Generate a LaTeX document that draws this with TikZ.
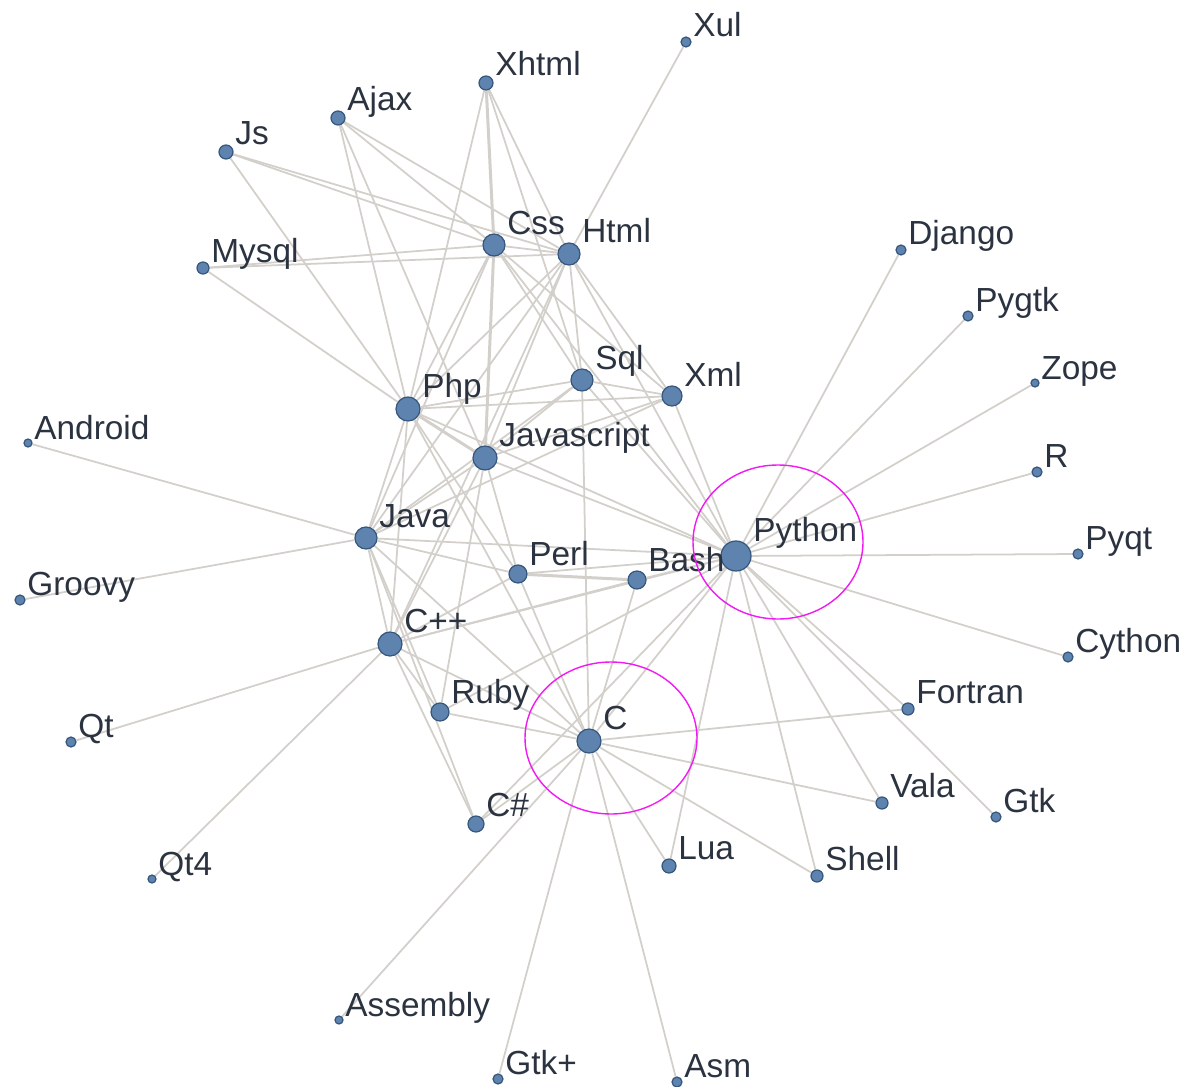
\documentclass[tikz,border=0pt]{standalone}
\usepackage{fontspec}
\setmainfont{Liberation Sans}
\usetikzlibrary{backgrounds}
\definecolor{NodeFill}{HTML}{5E83AE}
\definecolor{NodeLine}{HTML}{36577D}
\definecolor{LinkGray}{HTML}{D3CFCB}
\definecolor{LabelInk}{HTML}{2B3340}
\definecolor{RingPink}{HTML}{F21AF2}
\tikzset{dot/.style={circle,fill=NodeFill,draw=NodeLine,line width=.7pt,inner sep=0pt},
 lbl/.style={anchor=base west,inner sep=0pt,text=LabelInk,font=\fontsize{19}{20}\selectfont},
 link/.style={draw=LinkGray,line width=1pt},heavy/.style={link,line width=1.7pt},
 ring/.style={draw=RingPink,line width=.8pt}}

\begin{document}
\begin{tikzpicture}[x=.2mm,y=-.2mm]
\useasboundingbox (0,0) rectangle (1191,1087);
% languages: name/x/y/radius/label
\foreach \n/\x/\y/\s/\lab in {xul/686/42/5/Xul,xhtml/486/83/7/Xhtml,ajax/338/118/7/Ajax,
 js/226/152/7/Js,css/494/245/11/Css,html/569/254/11/Html,mysql/203/268/6/Mysql,
 django/901/250/5/Django,pygtk/968/316/5/Pygtk,zope/1035/383/4/Zope,sql/582/380/11/Sql,
 xml/672/396/10/Xml,php/408/409/12/Php,android/28/443/4/Android,javascript/485/458/12/Javascript,
 r/1037/472/5/R,java/366/538/11/Java,python/736/556/15/Python,pyqt/1078/554/5/Pyqt,
 perl/518/574/9/Perl,bash/637/580/9/Bash,groovy/20/600/5/Groovy,cpp/390/644/12/C++,
 cython/1068/657/5/Cython,fortran/908/709/6/Fortran,ruby/440/712/9/Ruby,qt/71/742/5/Qt,
 c/589/741/12/C,vala/882/803/6/Vala,gtk/996/817/5/Gtk,csharp/476/824/8/C\#,lua/669/866/7/Lua,
 shell/817/876/6/Shell,qt4/152/879/4/Qt4,assembly/339/1020/4/Assembly,gtkplus/498/1079/5/Gtk+,
 asm/677/1082/5/Asm}
 {\node[dot,minimum size=\s*.4mm] (\n) at (\x,\y) {};
  \node[lbl] (\n-t) at (\x+\s+2,\y-\s) {\lab};}
\begin{pgfonlayer}{background}
\foreach \a/\b in {xul/html,js/css,js/html,js/php,ajax/css,ajax/html,ajax/php,ajax/javascript,
 xhtml/html,xhtml/php,xhtml/sql,mysql/css,mysql/html,mysql/php,
 css/html,css/php,css/sql,css/xml,css/python,css/java,
 html/php,html/javascript,html/sql,html/xml,html/python,html/java,html/cpp,
 sql/php,sql/xml,sql/javascript,sql/java,sql/python,sql/c,
 xml/php,xml/javascript,xml/python,xml/java,
 php/java,php/cpp,php/python,php/perl,php/c,
 javascript/java,javascript/cpp,javascript/python,javascript/perl,javascript/ruby,
 java/android,java/groovy,java/cpp,java/perl,java/python,java/c,java/csharp,java/ruby,
 perl/python,perl/cpp,perl/c,bash/python,bash/cpp,bash/c,
 cpp/qt,cpp/qt4,cpp/ruby,cpp/c,cpp/csharp,cpp/python,
 c/python,c/ruby,c/csharp,c/assembly,c/gtkplus,c/asm,c/lua,c/shell,c/vala,c/fortran,
 python/django,python/pygtk,python/zope,python/r,python/pyqt,python/cython,python/fortran,
 python/gtk,python/vala,python/shell,python/lua,python/ruby,python/csharp}
 \draw[link] (\a)--(\b);
\foreach \a/\b in {xhtml/css,css/javascript,php/javascript,perl/bash}
 \draw[heavy] (\a)--(\b);
\end{pgfonlayer}
% the two marked hubs
\draw[ring] (778,542) ellipse [x radius=85,y radius=77];
\draw[ring] (611,738) ellipse [x radius=86,y radius=76];
\end{tikzpicture}
\end{document}
